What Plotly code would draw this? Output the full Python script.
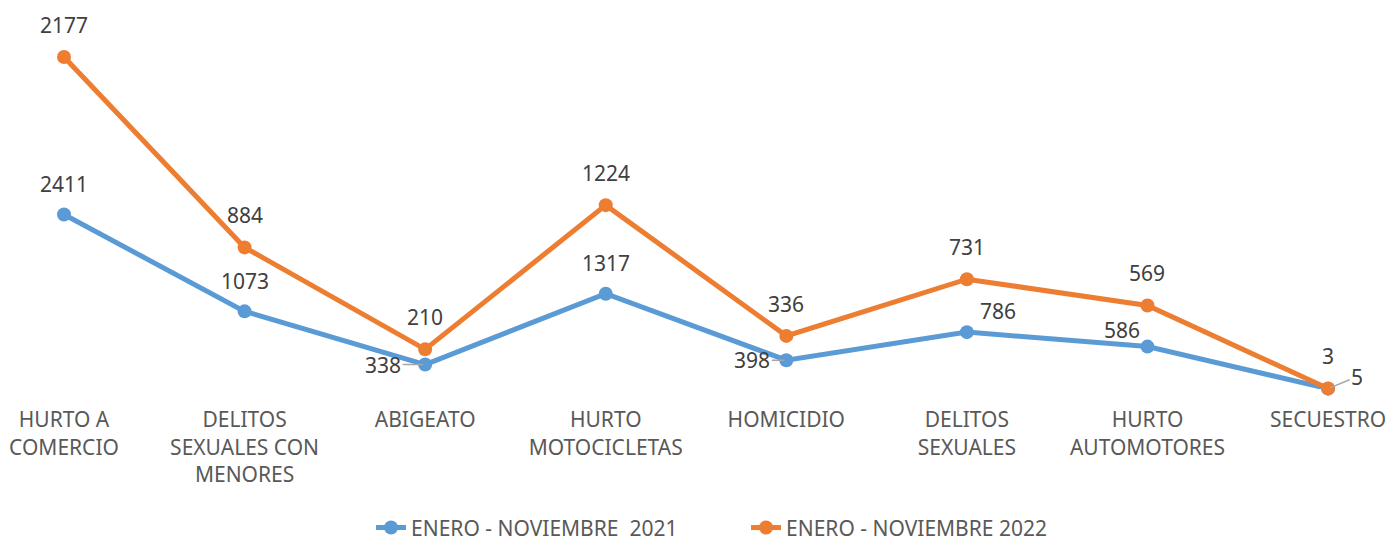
import numpy as np
import plotly.graph_objects as go

categories = ["HURTO A<br>COMERCIO", "DELITOS<br>SEXUALES CON<br>MENORES", "ABIGEATO",
              "HURTO<br>MOTOCICLETAS", "HOMICIDIO", "DELITOS<br>SEXUALES",
              "HURTO<br>AUTOMOTORES", "SECUESTRO"]
s2021 = [2411, 1073, 338, 1317, 398, 786, 586, 5]
s2022 = [2177, 884, 210, 1224, 336, 731, 569, 3]
name2021 = "ENERO - NOVIEMBRE  2021"
name2022 = "ENERO - NOVIEMBRE 2022"

BLUE = "#5B9BD5"
ORANGE = "#ED7D31"
FONT = "Noto Sans"

fig = go.Figure()
fig.add_trace(go.Scatter(x=categories, y=s2021, name=name2021, mode="lines+markers",
                         stackgroup="one", fill="none",
                         line=dict(color=BLUE, width=5), marker=dict(size=14, color=BLUE),
                         cliponaxis=False))
fig.add_trace(go.Scatter(x=categories, y=s2022, name=name2022, mode="lines+markers",
                         stackgroup="one", fill="none",
                         line=dict(color=ORANGE, width=5), marker=dict(size=14, color=ORANGE),
                         cliponaxis=False))

cum2021 = np.array(s2021)
cum2022 = cum2021 + np.array(s2022)

# label offsets (pixels): (xshift, yshift, leader)
off2021 = [(0, 31, False), (0, 30, False), (-42, 0, True), (0, 31, False),
           (-34, 0, True), (31, 21, False), (-25, 17, False), (29, 12, True)]
annotations = []
for i, c in enumerate(categories):
    annotations.append(dict(x=c, y=cum2022[i], text=str(s2022[i]), showarrow=False,
                            yshift=32, font=dict(family=FONT, size=21, color="#404040")))
    dx, dy, leader = off2021[i]
    if leader:
        annotations.append(dict(x=c, y=cum2021[i], text=str(s2021[i]), showarrow=True,
                                ax=dx, ay=-dy, arrowhead=0, arrowwidth=1.5,
                                arrowcolor="#A6A6A6", standoff=2,
                                font=dict(family=FONT, size=21, color="#404040")))
    else:
        annotations.append(dict(x=c, y=cum2021[i], text=str(s2021[i]), showarrow=False,
                                xshift=dx, yshift=dy,
                                font=dict(family=FONT, size=21, color="#404040")))

fig.update_layout(
    width=1388, height=542,
    margin=dict(l=0, r=0, t=0, b=153, autoexpand=False),
    paper_bgcolor="white", plot_bgcolor="white",
    showlegend=True,
    legend=dict(orientation="h", x=0.5375, xanchor="center",
                yref="container", y=0.026, yanchor="middle",
                entrywidth=330, entrywidthmode="pixels",
                font=dict(family=FONT, size=21, color="#595959")),
    annotations=annotations,
    font=dict(family=FONT),
)
fig.update_xaxes(type="category", range=[-0.3544, 7.332], showgrid=False, zeroline=False,
                 showline=False, ticks="outside", ticklen=12, tickcolor="rgba(0,0,0,0)",
                 automargin=False,
                 tickfont=dict(family=FONT, size=21, color="#595959"))
fig.update_yaxes(range=[0, 5376], visible=False, automargin=False)

fig.write_html("out.html", config={"displayModeBar": False},
               post_script="document.body.style.margin='0';")
